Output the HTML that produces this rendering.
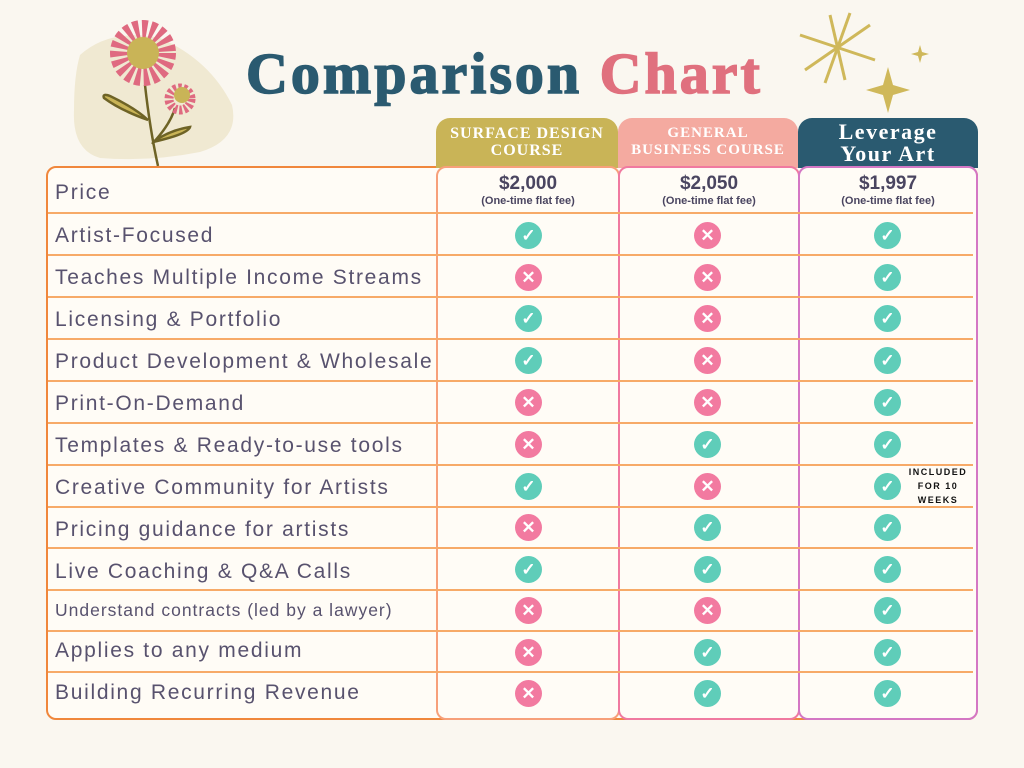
<!DOCTYPE html><html><head><style>
body{margin:0;width:1024px;height:768px;background:#faf7f0;position:relative;overflow:hidden;font-family:"Liberation Sans",sans-serif}
.a{position:absolute}
.lbl{position:absolute;left:55px;font-size:21px;color:#58526e;letter-spacing:1.7px}
.hl{position:absolute;left:48px;width:925px;height:2px;background:#f7aa68}
.ic{position:absolute;width:27px;height:27px;border-radius:50%;color:#fff;font-weight:bold;text-align:center;line-height:27px;font-size:17px}
.c{background:#5fcdb9}.x{background:#f27aa0}
.hd{position:absolute;top:118px;height:50px;border-radius:14px 14px 0 0;color:#fff;font-family:"Liberation Serif",serif;font-weight:bold;text-align:center}
.col{position:absolute;top:166px;height:550px;border-radius:10px;background:#fffcf6}
.pr{position:absolute;top:173px;text-align:center;color:#4a4560;font-weight:bold}
</style></head><body>
<svg class="a" style="left:0;top:0" width="250" height="170">
<path d="M80 55 Q110 28 160 38 Q210 60 232 105 Q240 140 200 152 Q150 162 100 158 Q72 150 74 110 Q74 75 80 55Z" fill="#f0e9d2"/>
<path d="M145 85 Q150 130 158 166" stroke="#6e6326" stroke-width="2.5" fill="none"/>
<path d="M148 120 Q120 110 104 98 Q102 93 110 96 Q135 108 148 120Z" stroke="#6e6326" stroke-width="2.5" fill="#c9b457"/>
<path d="M153 142 Q170 130 190 127 Q188 134 153 142Z" stroke="#6e6326" stroke-width="2.5" fill="#c9b457"/>
<path d="M152 144 Q170 125 175 108" stroke="#6e6326" stroke-width="2.5" fill="none"/>
<circle cx="143" cy="53" r="24" fill="none" stroke="#df6a80" stroke-width="18" stroke-dasharray="5 3"/>
<circle cx="143" cy="53" r="16" fill="#c9b457"/>
<circle cx="180" cy="99" r="11" fill="none" stroke="#df6a80" stroke-width="9" stroke-dasharray="3 2"/>
<circle cx="182" cy="95" r="8" fill="#c9b457"/>
</svg>
<div class="a" style="left:246px;top:40px;font-family:'Liberation Serif',serif;font-weight:900;font-size:58px;color:#2a5a70;letter-spacing:3px;-webkit-text-stroke:1.5px">Comparison <span style="color:#e0707e">Chart</span></div>
<svg class="a" style="left:790px;top:5px" width="150" height="110">
<g stroke="#cfb85a" stroke-width="3"><line x1="40" y1="10" x2="55" y2="75"/><line x1="10" y1="30" x2="85" y2="55"/><line x1="15" y1="65" x2="80" y2="20"/><line x1="60" y1="8" x2="35" y2="78"/></g>
<path d="M98 62 L103 80 L120 85 L103 90 L98 108 L93 90 L76 85 L93 80Z" fill="#cfb85a"/>
<path d="M130 40 L132 47 L139 49 L132 51 L130 58 L128 51 L121 49 L128 47Z" fill="#cfb85a"/>
</svg>
<div class="a" style="left:46px;top:166px;width:928px;height:550px;border:2px solid #f0873c;border-radius:10px;background:#fffcf6"></div>
<div class="hd" style="left:436px;width:182px;background:#c9b457;font-size:16px;line-height:17px;padding-top:7px;height:43px;letter-spacing:1px">SURFACE DESIGN<br>COURSE</div>
<div class="hd" style="left:618px;width:180px;background:#f4aaa0;font-size:15px;line-height:17px;padding-top:7px;height:43px;letter-spacing:1px">GENERAL<br>BUSINESS COURSE</div>
<div class="hd" style="left:798px;width:180px;background:#2a5a70;font-size:22px;line-height:22px;padding-top:3px;height:47px;letter-spacing:1.5px">Leverage<br>Your Art</div>
<div class="col" style="left:436px;width:180px;border:2px solid #f7a07a"></div>
<div class="col" style="left:618px;width:178px;border:2px solid #f07aa0"></div>
<div class="col" style="left:798px;width:176px;border:2px solid #d477c4"></div>
<div class="pr" style="left:436px;width:184px"><div style="font-size:19px">$2,000</div><div style="font-size:11px">(One-time flat fee)</div></div>
<div class="pr" style="left:618px;width:182px"><div style="font-size:19px">$2,050</div><div style="font-size:11px">(One-time flat fee)</div></div>
<div class="pr" style="left:798px;width:180px"><div style="font-size:19px">$1,997</div><div style="font-size:11px">(One-time flat fee)</div></div>
<div class="hl" style="top:212px"></div><div class="hl" style="top:254px"></div><div class="hl" style="top:296px"></div><div class="hl" style="top:338px"></div><div class="hl" style="top:380px"></div><div class="hl" style="top:422px"></div><div class="hl" style="top:464px"></div><div class="hl" style="top:506px"></div><div class="hl" style="top:547px"></div><div class="hl" style="top:589px"></div><div class="hl" style="top:630px"></div><div class="hl" style="top:671px"></div>
<div class="lbl" style="top:181px">Price</div>
<div class="lbl" style="top:224px">Artist-Focused</div>
<div class="lbl" style="top:266px">Teaches Multiple Income Streams</div>
<div class="lbl" style="top:308px">Licensing &amp; Portfolio</div>
<div class="lbl" style="top:350px">Product Development &amp; Wholesale</div>
<div class="lbl" style="top:392px">Print-On-Demand</div>
<div class="lbl" style="top:434px">Templates &amp; Ready-to-use tools</div>
<div class="lbl" style="top:476px">Creative Community for Artists</div>
<div class="lbl" style="top:518px">Pricing guidance for artists</div>
<div class="lbl" style="top:560px">Live Coaching &amp; Q&amp;A Calls</div>
<div class="lbl" style="top:600px;font-size:17.5px;letter-spacing:1px">Understand contracts (led by a lawyer)</div>
<div class="lbl" style="top:639px">Applies to any medium</div>
<div class="lbl" style="top:681px">Building Recurring Revenue</div>
<div id="icons"></div>
<div class="a" style="left:903px;top:465px;width:70px;font-size:9px;font-weight:bold;letter-spacing:1.5px;line-height:14px;text-align:center;color:#111">INCLUDED<br>FOR 10<br>WEEKS</div>
<script>
var d=[[1,0,1],[0,0,1],[1,0,1],[1,0,1],[0,0,1],[0,1,1],[1,0,1],[0,1,1],[1,1,1],[0,0,1],[0,1,1],[0,1,1]];
var ys=[235,277,318,360,402,444,486,527,569,610,652,693],xs=[528,707,887],h='';
d.forEach(function(r,i){r.forEach(function(v,j){h+='<div class="ic '+(v?'c':'x')+'" style="left:'+(xs[j]-13)+'px;top:'+(ys[i]-13)+'px">'+(v?'✓':'✕')+'</div>';});});
document.getElementById('icons').innerHTML=h;
</script>
</body></html>
